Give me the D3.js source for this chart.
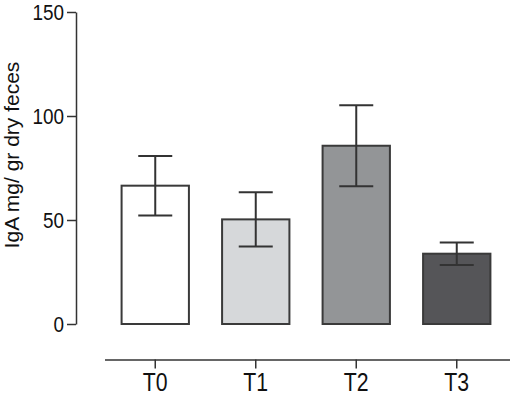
<!DOCTYPE html>
<html>
<head>
<meta charset="utf-8">
<script src="https://cdn.jsdelivr.net/npm/d3@7"></script>
<style>
  html, body { margin: 0; padding: 0; background: #fff; }
  svg { display: block; }
</style>
</head>
<body>
<svg id="chart" width="510" height="395"></svg>
<script>
const categories = ["T0", "T1", "T2", "T3"];
const means = [66.5, 50.3, 85.7, 33.8];
const errors = [14.3, 13.0, 19.5, 5.4];
const fills = ["#ffffff", "#d6d8da", "#939597", "#555558"];
const yTicks = [0, 50, 100, 150];
const yLabel = "IgA mg/ gr dry feces";

const svg = d3.select("#chart");
const ink = "#333333";
const font = "'Liberation Sans', Arial, sans-serif";

const x = d3.scaleBand().domain(categories).range([105, 507])
  .paddingInner(0.33).paddingOuter(0.165);
const y = d3.scaleLinear().domain([0, 150]).range([324, 12]);

// bars
svg.append("g").selectAll("rect").data(categories).join("rect")
  .attr("x", d => x(d))
  .attr("width", x.bandwidth())
  .attr("y", (d, i) => y(means[i]))
  .attr("height", (d, i) => y(0) - y(means[i]))
  .attr("fill", (d, i) => fills[i])
  .attr("stroke", "#3a3a3a")
  .attr("stroke-width", 2);

// error bars
const eg = svg.append("g").attr("stroke", ink).attr("stroke-width", 2).attr("fill", "none");
categories.forEach((c, i) => {
  const cx = x(c) + x.bandwidth() / 2;
  const hi = y(means[i] + errors[i]), lo = y(means[i] - errors[i]);
  const hw = 17;
  eg.append("line").attr("x1", cx).attr("x2", cx).attr("y1", hi).attr("y2", lo);
  eg.append("line").attr("x1", cx - hw).attr("x2", cx + hw).attr("y1", hi).attr("y2", hi);
  eg.append("line").attr("x1", cx - hw).attr("x2", cx + hw).attr("y1", lo).attr("y2", lo);
});

// y axis
const sy = 0.86;
const ya = svg.append("g").attr("transform", "translate(76,0)")
  .call(d3.axisLeft(y).tickValues(yTicks).tickSize(9).tickSizeOuter(0).tickPadding(3));
ya.select(".domain").attr("stroke", ink).attr("stroke-width", 1.5);
ya.selectAll(".tick line").attr("stroke", ink).attr("stroke-width", 1.5);
ya.selectAll(".tick text")
  .attr("font-family", font)
  .attr("font-size", 22)
  .attr("fill", "#111")
  .attr("x", -12 / sy)
  .attr("transform", `scale(${sy},1)`);

// x axis
const sx = 0.85;
const xa = svg.append("g").attr("transform", "translate(0,359.5)")
  .call(d3.axisBottom(x).tickSize(9).tickSizeOuter(0));
xa.select(".domain").attr("d", "M105,0.5H510").attr("stroke", ink).attr("stroke-width", 1.5);
xa.selectAll(".tick line").attr("stroke", ink).attr("stroke-width", 1.5);
xa.selectAll(".tick text")
  .attr("font-family", font)
  .attr("font-size", 25)
  .attr("fill", "#111")
  .attr("y", 31.5)
  .attr("dy", 0)
  .attr("transform", `scale(${sx},1)`);

// y label
svg.append("text")
  .attr("transform", "translate(19,155) rotate(-90)")
  .attr("text-anchor", "middle")
  .attr("font-family", font)
  .attr("font-size", 21)
  .attr("fill", "#111")
  .text(yLabel);
</script>
</body>
</html>
